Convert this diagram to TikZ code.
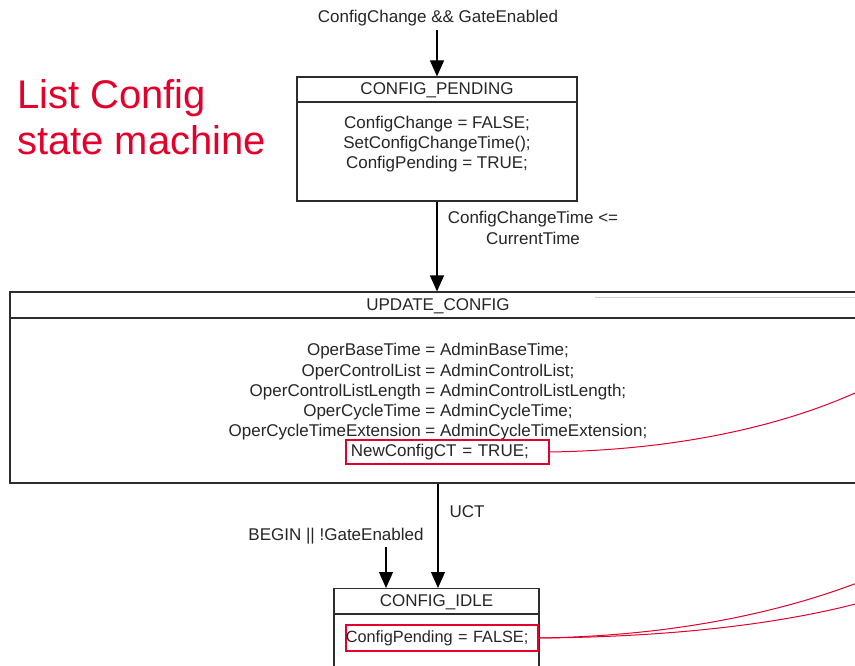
\documentclass[tikz,border=0pt]{standalone}
\usepackage{fontspec}
\setmainfont{Liberation Sans}
\usepackage{xcolor}
\usetikzlibrary{arrows.meta, positioning}

\definecolor{slidered}{RGB}{228,0,43}
\definecolor{boxgray}{RGB}{45,45,45}

\tikzset{
    statebox/.style={draw=boxgray, line width=1.2pt, rectangle, inner sep=0pt},
    txt/.style={font=\fontsize{17}{20.2}\selectfont, inner sep=0pt, align=center, text=black!85},
    hilite/.style={draw=slidered, line width=1.6pt, font=\fontsize{17}{20.2}\selectfont, align=left, text=black!85},
    link/.style={slidered, line width=1pt},
    trans/.style={->, line width=1.2pt}
}

\begin{document}
\begin{tikzpicture}[x=1pt, y=-1pt, >={Triangle[width=14pt,length=16pt]}]

    \clip (0,0) rectangle (855,666);
    \fill[white] (0,0) rectangle (855,666);

    % Titre de la diapositive
    \node[anchor=base west, inner sep=0pt, text=slidered, font=\fontsize{40}{45}\selectfont] (ttla) at (17,109) {List Config};
    \node[anchor=base west, inner sep=0pt, text=slidered, font=\fontsize{40}{45}\selectfont] (ttlb) at (17,155) {state machine};

    % Etat CONFIG_PENDING
    \node[statebox, minimum width=280, minimum height=124] (pending) at (437,139) {};
    \draw[boxgray, line width=1.2pt] (297,102) -- (577,102);
    \node[txt] (pendname) at (437,90) {CONFIG\_PENDING};
    \node[txt] (pendbody) at (437,144) {ConfigChange = FALSE;\\SetConfigChangeTime();\\ConfigPending = TRUE;};

    % Etat UPDATE_CONFIG (coupe a droite)
    \node[statebox, minimum width=856, minimum height=191] (update) at (438,387.5) {};
    \draw[boxgray, line width=1.2pt] (10,318) -- (870,318);
    \draw[black!20, line width=1pt] (595,297) -- (855,297);
    \node[txt] (updname) at (438,306) {UPDATE\_CONFIG};
    \node[txt] (updbody) at (438,392) {OperBaseTime = AdminBaseTime;\\OperControlList = AdminControlList;\\OperControlListLength = AdminControlListLength;\\OperCycleTime = AdminCycleTime;\\OperCycleTimeExtension = AdminCycleTimeExtension;};
    \node[hilite, anchor=west, inner xsep=5pt, inner ysep=0pt, text width=193, minimum height=24] (newct) at (345,452) {NewConfigCT = TRUE;};

    % Etat CONFIG_IDLE (coupe en bas)
    \node[statebox, minimum width=205, minimum height=90, anchor=north] (idle) at (436.5,588) {};
    \draw[boxgray, line width=1.2pt] (334,614) -- (539,614);
    \node[txt] (idlename) at (436.5,602) {CONFIG\_IDLE};
    \node[hilite, anchor=west, inner xsep=0pt, inner ysep=0pt, text width=192, minimum height=26, font=\fontsize{16.3}{20.2}\selectfont] (idlebody) at (345,638) {ConfigPending = FALSE;};

    % Transitions
    \node[txt] (trigin) at (438,18) {ConfigChange \&\& GateEnabled};
    \coordinate (cin) at (437,30);
    \draw[trans] (cin) -- (pending.north);

    \draw[trans] (pending.south) -- (pending.south |- update.north);
    \node[txt] (trigtime) at (533,228) {ConfigChangeTime <=\\CurrentTime};

    \draw[trans] (update.south) -- (update.south |- idle.north);
    \node[txt] (triguct) at (467,512) {UCT};

    \node[txt] (trigbegin) at (336,536) {BEGIN || !GateEnabled};
    \coordinate (bin) at (386,547);
    \draw[trans] (bin) -- (bin |- idle.north);

    % Liens rouges vers la droite
    \coordinate (outA) at (870,386);
    \coordinate (outB) at (870,578);
    \coordinate (outC) at (870,600);
    \draw[link] (newct.east) .. controls (680,450) and (790,425) .. (outA);
    \draw[link] (idlebody.east) .. controls (680,636) and (790,610) .. (outB);
    \draw[link] (idlebody.east) .. controls (690,637) and (800,620) .. (outC);

\end{tikzpicture}
\end{document}
